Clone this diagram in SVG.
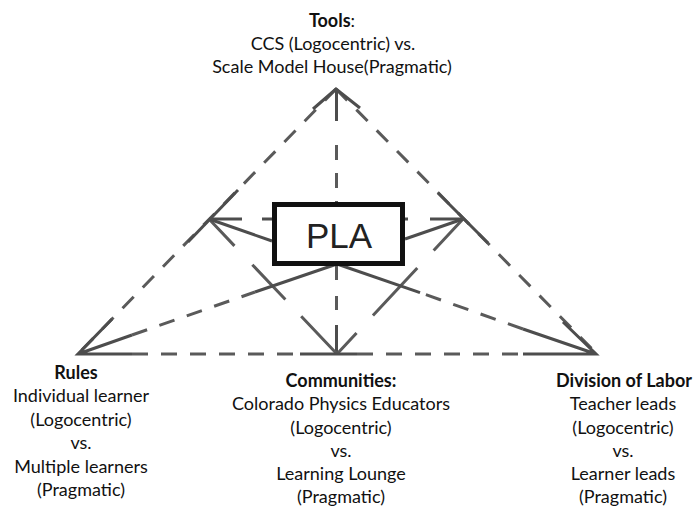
<svg xmlns="http://www.w3.org/2000/svg" width="693" height="506" viewBox="0 0 693 506">
<style>
.dash{fill:none;stroke:#5a5a5a;stroke-width:3;stroke-dasharray:16 13}
.sol{fill:none;stroke:#4d4d4d;stroke-width:3}
.lbl{font-family:Lato,'Liberation Sans',sans-serif;font-size:18px;fill:#111;text-anchor:middle}
.b{font-weight:bold}
</style>
<rect width="693" height="506" fill="#fff"/>
<g id="connectors">
  <!-- outer triangle -->
  <path class="dash" d="M336,89 L78,354"/>
  <path class="dash" d="M336,89 L597,354"/>
  <path class="dash" d="M132,354 H300"/>
  <path class="dash" d="M357,354 H523"/>
  <!-- medians -->
  <path class="dash" d="M132,335 L255,292"/>
  <path class="dash" d="M523,329 L420,292.6"/>
  <!-- vertical -->
  <path class="sol" d="M336.5,89 V121"/>
  <path class="dash" d="M336.5,145 V202" style="stroke-dasharray:15 13"/>
  <path class="dash" d="M336.5,266 V325" style="stroke-dasharray:14 16"/>
  <path class="sol" d="M336.5,325 V354"/>
  <!-- horizontal subject-object -->
  <path class="sol" d="M209,219 H242 M262,219 H272 M405,219 H408 M430,219 H463"/>
  <!-- inner lines -->
  <path class="dash" d="M209,219 L337,354" style="stroke-dasharray:37 26 48 23 52"/>
  <path class="dash" d="M463,219 L337,354" style="stroke-dasharray:43 24 65 24 29"/>
  <!-- solid segments of medians -->
  <path class="sol" d="M255,292 L337,264"/>
  <path class="sol" d="M420,292.6 L337,264"/>
  <path class="sol" d="M272,241 L209,219"/>
  <path class="sol" d="M405,239 L463,219"/>
  <!-- arrowheads -->
  <path class="sol" d="M313,109 L336,89 L360,108"/>
  <path class="sol" d="M112,319 L78,354 L132,354 M78,354 L132,335"/>
  <path class="sol" d="M563,322 L596,354 L523,354 M596,354 L523,329"/>
  <path class="sol" d="M300,354 H357"/>
  <path class="sol" d="M188,242 L238,190"/>
  <path class="sol" d="M438,193 L488,243"/>
</g>
<g id="node-pla">
  <rect x="274.5" y="204.5" width="128" height="59" fill="#fff" stroke="#111" stroke-width="5"/>
  <text x="339" y="248" font-family="'Liberation Sans',Arial,sans-serif" font-size="35" fill="#222" text-anchor="middle">PLA</text>
</g>
<g id="node-tools" class="lbl">
  <text class="lbl" x="332" y="27"><tspan class="b">Tools</tspan>:</text>
  <text class="lbl" x="333" y="50">CCS (Logocentric) vs.</text>
  <text class="lbl" x="332" y="73">Scale Model House(Pragmatic)</text>
</g>
<g id="node-rules">
  <text class="lbl b" x="76" y="379">Rules</text>
  <text class="lbl" x="81" y="402">Individual learner</text>
  <text class="lbl" x="81" y="425.5">(Logocentric)</text>
  <text class="lbl" x="81" y="449">vs.</text>
  <text class="lbl" x="81" y="472.5">Multiple learners</text>
  <text class="lbl" x="81" y="495.5">(Pragmatic)</text>
</g>
<g id="node-communities">
  <text class="lbl b" x="341" y="387">Communities:</text>
  <text class="lbl" x="341" y="410">Colorado Physics Educators</text>
  <text class="lbl" x="341" y="433.5">(Logocentric)</text>
  <text class="lbl" x="341" y="457">vs.</text>
  <text class="lbl" x="341" y="480">Learning Lounge</text>
  <text class="lbl" x="341" y="503">(Pragmatic)</text>
</g>
<g id="node-division">
  <text class="lbl b" x="624" y="387">Division of Labor</text>
  <text class="lbl" x="623" y="410">Teacher leads</text>
  <text class="lbl" x="623" y="433.5">(Logocentric)</text>
  <text class="lbl" x="623" y="457">vs.</text>
  <text class="lbl" x="623" y="480">Learner leads</text>
  <text class="lbl" x="623" y="503">(Pragmatic)</text>
</g>
</svg>
